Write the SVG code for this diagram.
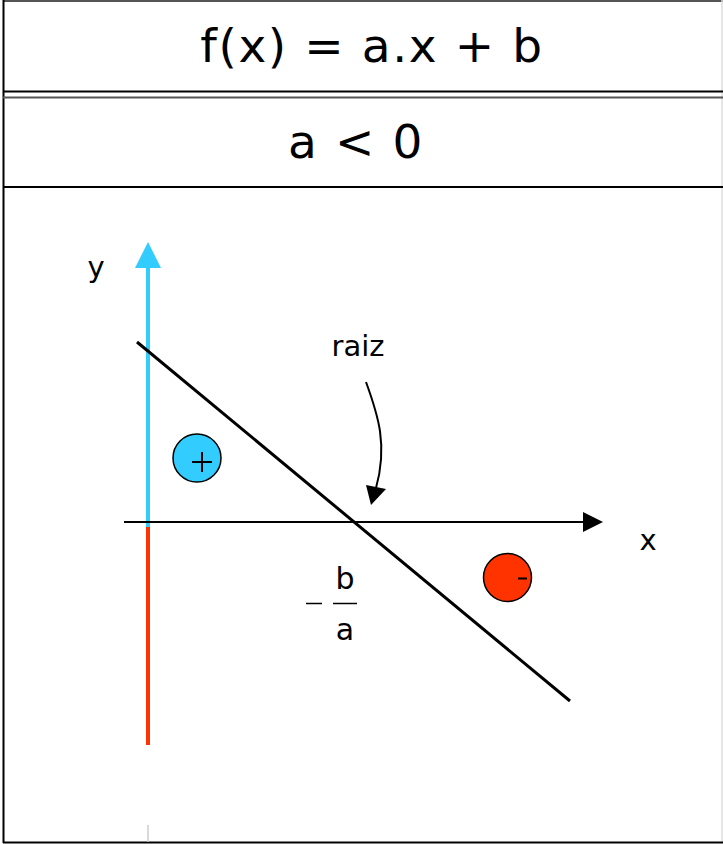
<svg xmlns="http://www.w3.org/2000/svg" width="723" height="844" viewBox="0 0 723 844">
<style>
text{font-family:"DejaVu Sans","Liberation Sans",sans-serif;fill:#000}
.big{font-size:47px;letter-spacing:1.6px}
.lbl{font-size:29px}
</style>
<rect width="723" height="844" fill="#fff"/>
<g id="frame" fill="none">
<line x1="3" y1="1" x2="723" y2="1" stroke="#555" stroke-width="2"/>
<line x1="3.5" y1="0" x2="3.5" y2="843" stroke="#000" stroke-width="2"/>
<line x1="722" y1="0" x2="722" y2="843" stroke="#ddd" stroke-width="1.5"/>
<line x1="3" y1="91.5" x2="723" y2="91.5" stroke="#000" stroke-width="2"/>
<line x1="3" y1="97.5" x2="723" y2="97.5" stroke="#555" stroke-width="2"/>
<line x1="3" y1="187" x2="723" y2="187" stroke="#000" stroke-width="2"/>
<line x1="3" y1="842.5" x2="723" y2="842.5" stroke="#000" stroke-width="2"/>
</g>
<g id="title"><text class="big" x="372" y="62" text-anchor="middle">f(x) = a.x + b</text></g>
<g id="cond"><text class="big" x="356" y="158" text-anchor="middle">a &lt; 0</text></g>
<g id="axes">
<line x1="148" y1="266" x2="148" y2="527" stroke="#33CCFF" stroke-width="4"/>
<polygon points="148,242 135,268 161,268" fill="#33CCFF"/>
<line x1="148" y1="527" x2="148" y2="745" stroke="#FF3300" stroke-width="4"/>
<line x1="148" y1="825" x2="148" y2="842" stroke="#ccc" stroke-width="1.5"/>
<line x1="124" y1="522" x2="585" y2="522" stroke="#000" stroke-width="2"/>
<polygon points="603,522 583,512 583,532" fill="#000"/>
<text class="lbl" x="648" y="550" text-anchor="middle">x</text>
<text class="lbl" x="96" y="277" text-anchor="middle">y</text>
</g>
<g id="line"><line x1="137" y1="342" x2="570" y2="701" stroke="#000" stroke-width="3"/></g>
<g id="raiz">
<text class="lbl" x="358" y="356" text-anchor="middle">raiz</text>
<path d="M366,382 C378,415 388,445 376,488" fill="none" stroke="#000" stroke-width="2"/>
<polygon points="371,505 366,485 386,489" fill="#000"/>
</g>
<g id="plus">
<circle cx="197" cy="458" r="24" fill="#33CCFF" stroke="#000" stroke-width="1.5"/>
<line x1="192" y1="462" x2="212" y2="462" stroke="#000" stroke-width="2"/>
<line x1="202" y1="452" x2="202" y2="472" stroke="#000" stroke-width="2"/>
</g>
<g id="minus">
<circle cx="507.5" cy="577.5" r="24" fill="#FF3300" stroke="#000" stroke-width="1.5"/>
<line x1="518" y1="578.5" x2="527" y2="578.5" stroke="#000" stroke-width="2"/>
</g>
<g id="root">
<line x1="306" y1="603.5" x2="322" y2="603.5" stroke="#000" stroke-width="1.5"/>
<line x1="333" y1="603.5" x2="357" y2="603.5" stroke="#000" stroke-width="1.5"/>
<text x="345" y="589" font-size="30" text-anchor="middle">b</text>
<text x="345" y="640" font-size="30" text-anchor="middle">a</text>
</g>
</svg>
